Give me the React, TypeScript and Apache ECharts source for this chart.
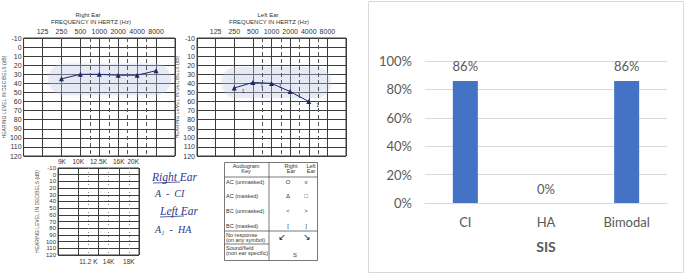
import React, { useEffect, useRef } from "react";
import * as echarts from "echarts";

// ---- Audiogram data ----
const audioFreqLabels = ["", "125", "250", "500", "1000", "2000", "4000", "8000", ""];
const rightEarFreqIdx = [2, 3, 4, 5, 6, 7];
const rightEarDb = [35, 30, 30, 31, 31, 26];
const leftEarFreqIdx = [2, 3, 4, 5, 6];
const leftEarDb = [45, 39, 40, 49, 60];
const midOctaveIdx = [3.5, 4.5, 5.5, 6.5];
const rightBand = [1.3, 18, 7.8, 53];
const leftBand = [1.3, 22, 7.2, 56];

// ---- Extended high-frequency grid ----
const hfTopLabels = ["9K", "10K", "12.5K", "16K", "20K"];
const hfBottomPos = [1.5, 2.5, 3.5];
const hfBottomLabels = ["11.2 K", "14K", "18K"];

// ---- SIS bar chart ----
const sisCategories = ["CI", "HA", "Bimodal"];
const sisValues = [0.86, 0, 0.86];

const narrow = "'Liberation Sans Narrow', 'Liberation Sans', Arial, sans-serif";
const calibri = "Lato, 'Open Sans', sans-serif";
const ink = "#1c2766";
const gridLine = "#3c3c3c";
const pen = "#2e3a8c";

function audioAxes(gridIndex: number, nameGap: number) {
  const x = {
    type: "value", gridIndex, min: 0, max: 8, interval: 1, position: "top",
    axisLine: { show: false }, axisTick: { show: false },
    axisLabel: {
      fontSize: 7, fontFamily: narrow, color: "#333", margin: 3,
      formatter: (v: number) => audioFreqLabels[Math.round(v)] ?? "",
    },
    splitLine: { show: true, lineStyle: { color: gridLine, width: 1 } },
  };
  const y = {
    type: "value", gridIndex, inverse: true, min: -10, max: 120, interval: 10,
    axisLine: { show: false }, axisTick: { show: false },
    axisLabel: { fontSize: 7, fontFamily: narrow, color: "#333", margin: 2 },
    splitLine: { show: true, lineStyle: { color: gridLine, width: 1 } },
    name: "HEARING LEVEL IN DECIBELS (dB)", nameLocation: "middle", nameGap,
    nameTextStyle: { fontSize: 5, fontFamily: narrow, color: "#444" },
  };
  return { x, y };
}

function bandSeries(axisIndex: number, band: number[]) {
  return {
    type: "custom", xAxisIndex: axisIndex, yAxisIndex: axisIndex, z: 1, silent: true,
    data: [band],
    renderItem: (_p: any, api: any) => {
      const a = api.coord([api.value(0), api.value(1)]);
      const b = api.coord([api.value(2), api.value(3)]);
      const h = b[1] - a[1];
      return {
        type: "rect",
        shape: { x: a[0], y: a[1], width: b[0] - a[0], height: h, r: h / 2 },
        style: { fill: "rgba(185,198,228,0.28)", stroke: "none", shadowBlur: 8, shadowColor: "rgba(185,198,228,0.5)" },
      };
    },
  };
}

function dashedMarks(lines: number[], type: any, color: string) {
  return {
    silent: true, symbol: "none", label: { show: false },
    lineStyle: { type, color, width: 1 },
    data: lines.map((v) => ({ xAxis: v })),
  };
}

function txt(x: number, y: number, text: string, size: number, opts: any = {}) {
  return {
    type: "text", x, y, silent: true,
    style: {
      text, fontSize: size, fontFamily: opts.family ?? narrow, fill: opts.color ?? "#333",
      fontStyle: opts.italic ? "italic" : "normal", fontWeight: opts.bold ? "bold" : "normal",
      textAlign: opts.align ?? "center", align: opts.align ?? "center",
      textVerticalAlign: "middle", verticalAlign: "middle",
    },
  };
}

function ln(x1: number, y1: number, x2: number, y2: number, color = "#555", width = 0.8) {
  return { type: "line", silent: true, shape: { x1, y1, x2, y2 }, style: { stroke: color, lineWidth: width } };
}

export default function App() {
  const ref = useRef<HTMLDivElement>(null);
  useEffect(() => {
    if (!ref.current) return;
    const chart = echarts.init(ref.current, undefined, { renderer: "svg", width: 685, height: 274 });
    const r = audioAxes(0, 15);
    const l = audioAxes(1, 11);

    const keyRows = [
      ["AC (unmasked)", "O", "x", 182],
      ["AC (masked)", "Δ", "□", 196],
      ["BC (unmasked)", "<", ">", 211],
      ["BC (masked)", "[", "]", 226],
    ];
    const keyText: any[] = [];
    keyRows.forEach(([name, rs, ls, y]: any) => {
      keyText.push(txt(226, y, name, 5.5, { align: "left" }));
      keyText.push(txt(288, y, rs, 6));
      keyText.push(txt(306, y, ls, 6));
    });

    const hand = { align: "left", italic: true, family: "'Liberation Serif', serif", color: pen };

    const option: any = {
      animation: false,
      grid: [
        { left: 22, top: 38, width: 153, height: 118, show: true, borderColor: gridLine, borderWidth: 1 },
        { left: 197, top: 38, width: 149, height: 118, show: true, borderColor: gridLine, borderWidth: 1 },
        { left: 58, top: 168, width: 81, height: 87, show: true, borderColor: gridLine, borderWidth: 1 },
        { left: 425, top: 61, width: 242, height: 142 },
      ],
      xAxis: [
        r.x,
        l.x,
        {
          type: "value", gridIndex: 2, min: 0, max: 4, interval: 1, position: "top",
          axisLine: { show: false }, axisTick: { show: false },
          axisLabel: {
            fontSize: 6.5, fontFamily: narrow, color: "#333", margin: 3,
            alignMinLabel: "left", alignMaxLabel: "right",
            formatter: (v: number) => hfTopLabels[Math.round(v)] ?? "",
          },
          splitLine: { show: true, lineStyle: { color: gridLine, width: 1 } },
        },
        {
          type: "value", gridIndex: 2, min: 0, max: 4, interval: 0.5, position: "bottom",
          axisLine: { show: false }, axisTick: { show: false }, splitLine: { show: false },
          axisLabel: {
            fontSize: 6.5, fontFamily: narrow, color: "#333", margin: 3,
            formatter: (v: number) => {
              const i = hfBottomPos.indexOf(v);
              return i >= 0 ? hfBottomLabels[i] : "";
            },
          },
        },
        {
          type: "category", gridIndex: 3, data: sisCategories,
          axisLine: { lineStyle: { color: "#d9d9d9" } }, axisTick: { show: false },
          axisLabel: { fontSize: 13, fontFamily: calibri, color: "#595959", margin: 12 },
          name: "SIS", nameLocation: "middle", nameGap: 36,
          nameTextStyle: { fontSize: 14, fontWeight: "bold", fontFamily: calibri, color: "#595959" },
        },
      ],
      yAxis: [
        r.y,
        l.y,
        {
          type: "value", gridIndex: 2, inverse: true, min: -10, max: 120, interval: 10,
          axisLine: { show: false }, axisTick: { show: false },
          axisLabel: { fontSize: 6, fontFamily: narrow, color: "#333", margin: 2 },
          splitLine: { show: true, lineStyle: { color: gridLine, width: 1 } },
          name: "HEARING LEVEL IN DECIBELS (dB)", nameLocation: "middle", nameGap: 19,
          nameTextStyle: { fontSize: 5, fontFamily: narrow, color: "#444" },
        },
        {
          type: "value", gridIndex: 3, min: 0, max: 1, interval: 0.2,
          axisLine: { show: false }, axisTick: { show: false },
          axisLabel: {
            fontSize: 13, fontFamily: calibri, color: "#595959", margin: 13,
            formatter: (v: number) => Math.round(v * 100) + "%",
          },
          splitLine: { lineStyle: { color: "#d9d9d9" } },
        },
      ],
      series: [
        bandSeries(0, rightBand),
        bandSeries(1, leftBand),
        {
          type: "line", xAxisIndex: 0, yAxisIndex: 0, z: 3,
          data: rightEarFreqIdx.map((f, i) => [f, rightEarDb[i]]),
          symbol: "triangle", symbolSize: 5,
          lineStyle: { color: ink, width: 1 }, itemStyle: { color: ink },
          markLine: dashedMarks(midOctaveIdx, [4, 3], "#555"),
        },
        {
          type: "line", xAxisIndex: 1, yAxisIndex: 1, z: 3,
          data: leftEarFreqIdx.map((f, i) => [f, leftEarDb[i]]),
          symbol: "triangle", symbolSize: 5,
          lineStyle: { color: ink, width: 1 }, itemStyle: { color: ink },
          label: { show: true, formatter: "1", position: "right", offset: [0, 3], fontSize: 5, color: ink },
          markLine: dashedMarks(midOctaveIdx, [4, 3], "#555"),
        },
        {
          type: "line", xAxisIndex: 2, yAxisIndex: 2, data: [],
          markLine: dashedMarks(hfBottomPos, [1, 3], "#888"),
        },
        {
          type: "bar", xAxisIndex: 4, yAxisIndex: 3, data: sisValues, barWidth: "31%",
          itemStyle: { color: "#4472C4" },
          label: {
            show: true, position: "top", distance: 8, fontSize: 13, fontFamily: calibri, color: "#595959",
            formatter: (p: any) => Math.round(p.value * 100) + "%",
          },
        },
      ],
      graphic: [
        {
          type: "rect", silent: true, shape: { x: 368.5, y: 1.5, width: 315, height: 271 },
          style: { fill: "none", stroke: "#d9d9d9", lineWidth: 1 },
        },
        txt(88, 15, "Right Ear", 6),
        txt(91, 22, "FREQUENCY IN HERTZ (Hz)", 6),
        txt(268, 15, "Left Ear", 6),
        txt(269, 22, "FREQUENCY IN HERTZ (Hz)", 6),
        txt(152, 177, "Right Ear", 11.5, hand),
        ln(153, 183, 180, 182, pen, 0.8),
        txt(155, 193, "A  -  CI", 10, hand),
        txt(160, 211, "Left Ear", 11.5, hand),
        ln(160, 217, 184, 216, pen, 0.8),
        txt(155, 229, "A₁  -  HA", 10, hand),
        {
          type: "rect", silent: true, shape: { x: 224.5, y: 162.5, width: 93, height: 98 },
          style: { fill: "#fff", stroke: "#555", lineWidth: 0.8 },
        },
        ln(269, 162.5, 269, 260.5),
        ln(224.5, 177, 317.5, 177),
        ln(224.5, 231, 317.5, 231),
        ln(224.5, 244, 269, 244),
        txt(246, 166, "Audiogram", 5.5),
        txt(246, 171, "Key", 5.5),
        txt(291, 166, "Right", 5.5),
        txt(291, 171, "Ear", 5.5),
        txt(311, 166, "Left", 5.5),
        txt(311, 171, "Ear", 5.5),
        ...keyText,
        txt(226, 235, "No response", 5.5, { align: "left" }),
        txt(226, 240, "(on any symbol)", 5.5, { align: "left" }),
        txt(282, 237, "↙", 9, { family: "'DejaVu Sans', sans-serif", color: "#111" }),
        txt(307, 237, "↘", 9, { family: "'DejaVu Sans', sans-serif", color: "#111" }),
        txt(226, 248, "Sound/field", 5.5, { align: "left" }),
        txt(226, 253, "(non ear specific)", 5.5, { align: "left" }),
        txt(295, 255, "S", 6),
      ],
    };
    chart.setOption(option);
    return () => chart.dispose();
  }, []);
  return (
    <div
      ref={ref}
      style={{ position: "absolute", left: 0, top: 0, width: 685, height: 274, background: "#fff" }}
    />
  );
}
